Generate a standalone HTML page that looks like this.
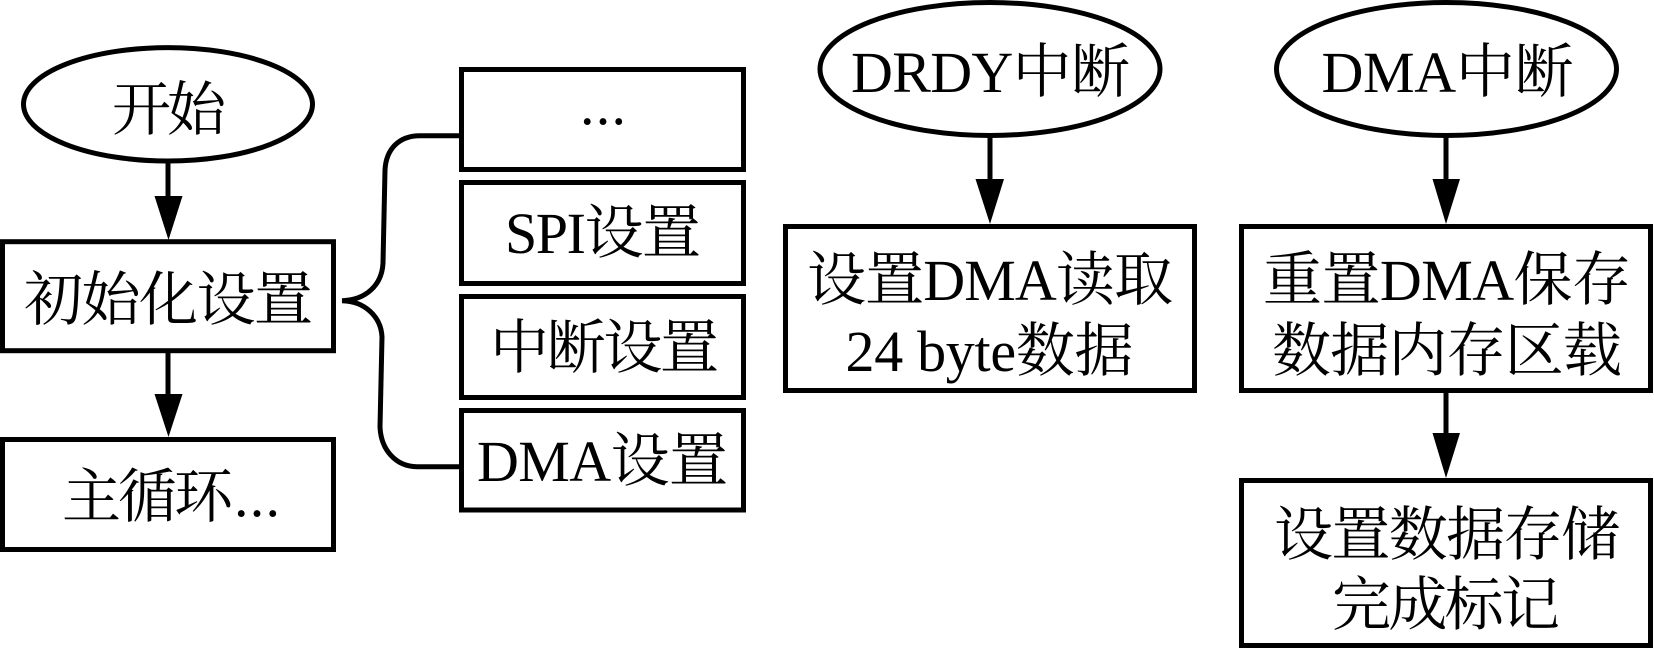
<!DOCTYPE html>
<html lang="zh-CN"><head><meta charset="utf-8"><style>
html,body{margin:0;padding:0;background:#fff}
svg{display:block}
text{font-family:"Liberation Serif","Noto Serif CJK SC",serif;font-size:58px;fill:#000;font-weight:400}
.c{font-family:"Noto Serif CJK SC","Noto Serif CJK TC","Noto Serif CJK JP",serif;font-size:59px}
</style></head><body>
<svg width="1654" height="649" viewBox="0 0 1654 649" xmlns="http://www.w3.org/2000/svg">
<rect width="1654" height="649" fill="#fff"/>
<g fill="#fff" stroke="#000" stroke-width="5">
<ellipse cx="168" cy="104.300" rx="144.500" ry="56.700"/>
<ellipse cx="990" cy="69" rx="170" ry="66.500"/>
<ellipse cx="1446.500" cy="69" rx="170" ry="66.500"/>
<rect x="2.500" y="241.700" width="331" height="109"/>
<rect x="2.500" y="439.500" width="331" height="110"/>
<rect x="461.500" y="69.500" width="282" height="100"/>
<rect x="461.500" y="182.500" width="282" height="101"/>
<rect x="461.500" y="296.500" width="282" height="101"/>
<rect x="461.500" y="410.500" width="282" height="99.500"/>
<rect x="785.500" y="226.500" width="409" height="164"/>
<rect x="1241.500" y="226.500" width="409" height="164"/>
<rect x="1241.500" y="480.500" width="409" height="165"/>
</g>
<g fill="none" stroke="#000" stroke-width="5">
<path d="M168 162V200M168 352V397M990 138V182M1446 138V182M1446 393V436"/>
<path d="M459 135.700H420C398 135.700 386 150 385 170L383 263C382 285 366 300 342 300.700C364 301 381 316 382 337L380 427C381 450 396 466.700 417 466.700H459"/>
</g>
<g fill="#000">
<path d="M154.500 196H182.500L168.500 240Z"/>
<path d="M154.500 394H182.500L168.500 437Z"/>
<path d="M975.500 179H1004L990 224Z"/>
<path d="M1432.500 179H1460L1446 224Z"/>
<path d="M1432.500 433H1460L1446 478Z"/>
</g>
<text class="c" x="112" y="130" textLength="114">开始</text>
<text class="c" x="24" y="320" textLength="289">初始化设置</text>
<text class="c" x="62" y="517" textLength="171">主循环</text>
<text x="234" y="516" textLength="46">...</text>
<text x="580" y="124" textLength="46">...</text>
<text x="505" y="253" textLength="196">SPI<tspan class="c">设置</tspan></text>
<text class="c" x="490" y="368" textLength="229">中断设置</text>
<text x="477" y="481" textLength="251">DMA<tspan class="c">设置</tspan></text>
<text x="851" y="92" textLength="279">DRDY<tspan class="c">中断</tspan></text>
<text x="1321.500" y="92" textLength="252">DMA<tspan class="c">中断</tspan></text>
<text x="807" y="300" textLength="366"><tspan class="c">设置</tspan>DMA<tspan class="c">读取</tspan></text>
<text x="845.500" y="371" textLength="288">24 byte<tspan class="c">数据</tspan></text>
<text x="1263" y="300" textLength="368"><tspan class="c">重置</tspan>DMA<tspan class="c">保存</tspan></text>
<text class="c" x="1272" y="371" textLength="350">数据内存区载</text>
<text class="c" x="1274" y="555" textLength="346">设置数据存储</text>
<text class="c" x="1332" y="625" textLength="228">完成标记</text>
</svg>
</body></html>
